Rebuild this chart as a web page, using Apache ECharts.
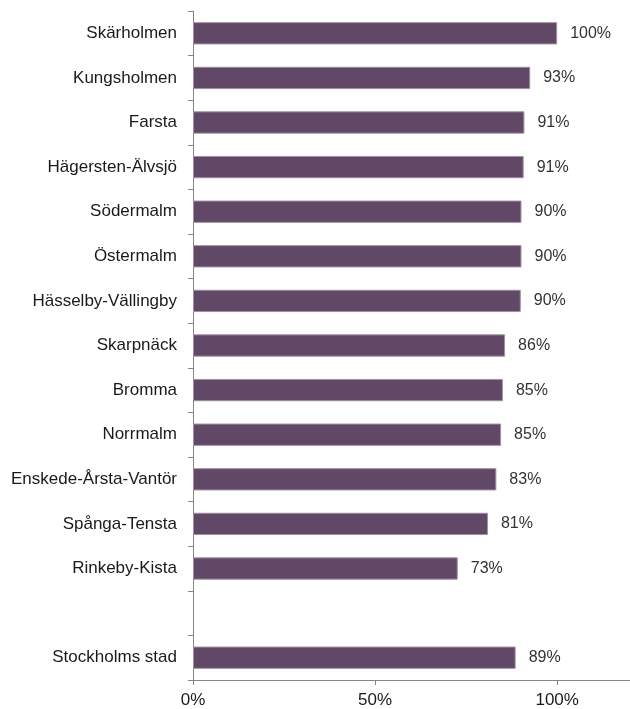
<!DOCTYPE html>
<html>
<head>
<meta charset="utf-8">
<script src="https://cdn.jsdelivr.net/npm/echarts@6/dist/echarts.min.js"></script>
<style>
  html, body { margin: 0; padding: 0; background: #fff; }
  #chart { width: 630px; height: 709px; }
</style>
</head>
<body>
<div id="chart"></div>
<script>
// districts, top to bottom (blank row separates the city total)
var districts = [
    'Skärholmen', 'Kungsholmen', 'Farsta', 'Hägersten-Älvsjö', 'Södermalm',
    'Östermalm', 'Hässelby-Vällingby', 'Skarpnäck', 'Bromma', 'Norrmalm',
    'Enskede-Årsta-Vantör', 'Spånga-Tensta', 'Rinkeby-Kista', '', 'Stockholms stad'
];
var shares = [100, 92.6, 91, 90.8, 90.2, 90.2, 90, 85.7, 85.1, 84.6, 83.3, 81, 72.7, null, 88.6];
var xTicks = [0, 50, 100];

var chart = echarts.init(document.getElementById('chart'));

var option = {
    animation: false,
    grid: {
        left: 193,
        right: -4,
        top: 11,
        bottom: 29
    },
    xAxis: {
        type: 'value',
        min: 0,
        max: 120,
        interval: 50,
        splitLine: { show: false },
        axisLine: { show: true, lineStyle: { color: '#858585', width: 1 } },
        axisTick: { show: true, length: 5, lineStyle: { color: '#858585' } },
        axisLabel: {
            margin: 12,
            fontFamily: 'Liberation Sans, Arial, sans-serif',
            fontSize: 17,
            color: '#1a1a1a',
            showMaxLabel: false,
            formatter: function (v) {
                return xTicks.indexOf(v) >= 0 ? v + '%' : '';
            }
        }
    },
    yAxis: {
        type: 'category',
        inverse: true,
        data: districts,
        axisLine: { show: true, lineStyle: { color: '#858585', width: 1 } },
        axisTick: { show: true, length: 5, lineStyle: { color: '#858585' } },
        axisLabel: {
            margin: 16,
            fontFamily: 'Liberation Sans, Arial, sans-serif',
            fontSize: 17,
            color: '#1a1a1a'
        }
    },
    series: [{
        type: 'bar',
        data: shares,
        barWidth: '50%',
        itemStyle: {
            color: '#614866',
            borderColor: '#a28fa3',
            borderWidth: 1
        },
        label: {
            show: true,
            position: 'right',
            distance: 13,
            fontFamily: 'Liberation Sans, Arial, sans-serif',
            fontSize: 16,
            color: '#333',
            formatter: function (p) {
                return p.value == null ? '' : Math.round(p.value) + '%';
            }
        }
    }]
};

chart.setOption(option);
</script>
</body>
</html>
